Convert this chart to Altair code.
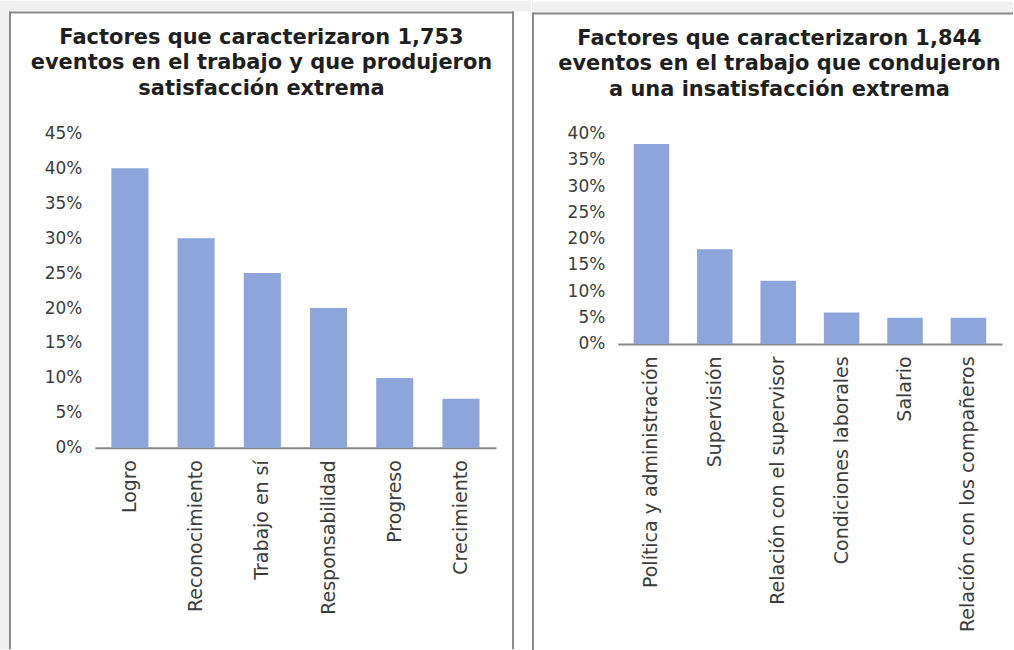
import altair as alt
import pandas as pd

# ---- data ----
left_categories = ["Logro", "Reconocimiento", "Trabajo en sí", "Responsabilidad", "Progreso", "Crecimiento"]
left_values = [0.40, 0.30, 0.25, 0.20, 0.10, 0.07]
left_ticks = [0, 0.05, 0.10, 0.15, 0.20, 0.25, 0.30, 0.35, 0.40, 0.45]
left_title = ["Factores que caracterizaron 1,753",
              "eventos en el trabajo y que produjeron",
              "satisfacción extrema"]

right_categories = ["Política y administración", "Supervisión", "Relación con el supervisor",
                    "Condiciones laborales", "Salario", "Relación con los compañeros"]
right_values = [0.38, 0.18, 0.12, 0.06, 0.05, 0.05]
right_ticks = [0, 0.05, 0.10, 0.15, 0.20, 0.25, 0.30, 0.35, 0.40]
right_title = ["Factores que caracterizaron 1,844",
               "eventos en el trabajo que condujeron",
               "a una insatisfacción extrema"]

BAR = "#8da5db"
FRAME = "#8a8a8a"
STRIP = "#f0f0f0"
LABEL = "#3c3c3c"
FONT = "DejaVu Sans"

one = pd.DataFrame({"k": [0]})


def panel(cats, vals, ticks, title, ymax, w, h, ox, oy, right_edge, title_x, is_left):
    df = pd.DataFrame({"cat": cats, "val": vals})
    bars = alt.Chart(df).mark_bar(color=BAR).encode(
        x=alt.X("cat:N", sort=cats,
                scale=alt.Scale(paddingInner=0.44, paddingOuter=0.25),
                axis=alt.Axis(title=None, labelAngle=270, labelAlign="right", labelBaseline="middle",
                              labelFont=FONT, labelFontSize=19, labelColor=LABEL, labelPadding=12,
                              labelLimit=400, ticks=False, domainColor=FRAME, domainWidth=2)),
        y=alt.Y("val:Q", scale=alt.Scale(domain=[0, ymax], nice=False),
                axis=alt.Axis(title=None, values=ticks, format=".0%", labelFont=FONT,
                              labelFontSize=17, labelColor=LABEL, labelPadding=13,
                              ticks=False, domain=False, grid=False)),
    )
    base = alt.Chart(one)
    top = -oy
    bottom = 650 - oy
    layers = []
    # grey strip on top
    layers.append(base.mark_rect(color=STRIP).encode(
        x=alt.value(-(ox - (0 if is_left else 532))), x2=alt.value(right_edge - ox),
        y=alt.value(top), y2=alt.value(11 - oy)))
    if is_left:
        layers.append(base.mark_rect(color=STRIP).encode(
            x=alt.value(-ox), x2=alt.value(9 - ox), y=alt.value(top), y2=alt.value(bottom)))
        frame_left = 10 - ox
        frame_right = 514 - ox
        layers.append(base.mark_rule(color=FRAME, strokeWidth=2).encode(
            x=alt.value(frame_right), y=alt.value(11 - oy), y2=alt.value(bottom)))
        top_x2 = 515 - ox
    else:
        frame_left = 533 - ox
        top_x2 = 1014 - ox
    layers.append(base.mark_rule(color=FRAME, strokeWidth=2).encode(
        x=alt.value(frame_left), y=alt.value(11 - oy), y2=alt.value(bottom)))
    layers.append(base.mark_rule(color=FRAME, strokeWidth=2).encode(
        x=alt.value(frame_left - 1), x2=alt.value(top_x2), y=alt.value(12 - oy)))
    # title
    layers.append(base.mark_text(font=FONT, fontSize=21, fontWeight="bold", color="#1f1f1f",
                                 lineHeight=26, align="center", baseline="middle").encode(
        text=alt.value(title), x=alt.value(title_x - ox), y=alt.value(37 - oy)))
    layers.append(bars)
    return alt.layer(*layers).properties(width=w, height=h)


left = panel(left_categories, left_values, left_ticks, left_title, 0.45,
             402, 315, 95, 133, 532, 262, True)
right = panel(right_categories, right_values, right_ticks, right_title, 0.40,
              385, 211, 618, 132, 1014, 780, False)

chart = alt.hconcat(left, right, spacing=0).properties(
    padding=0, background="white"
).configure_view(strokeWidth=0)

chart.save("out.html", embed_options={"renderer": "svg", "actions": False})
